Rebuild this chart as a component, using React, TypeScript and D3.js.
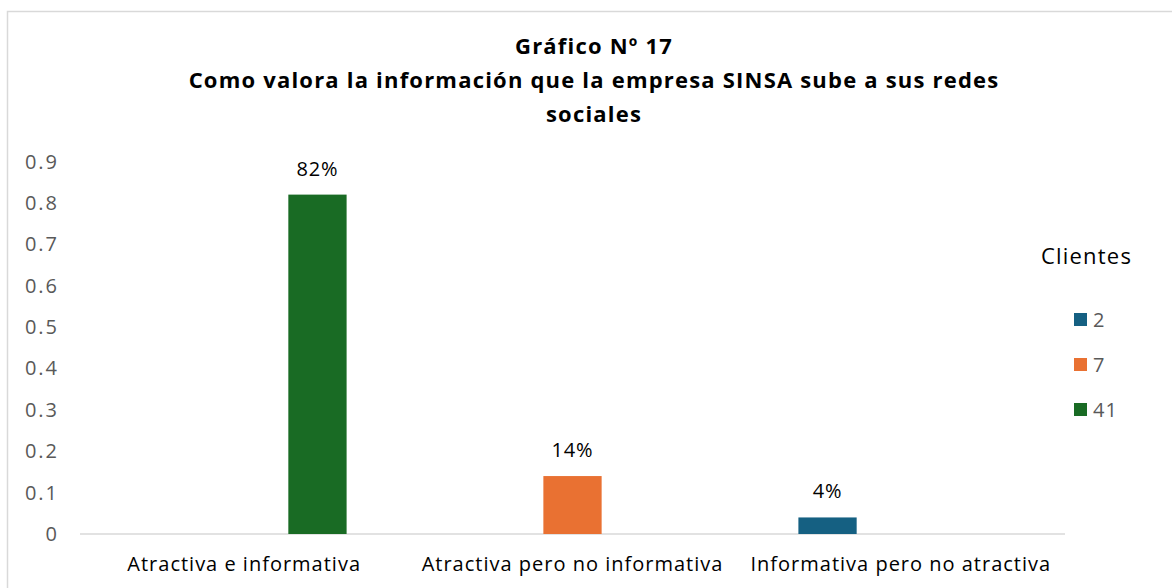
import React from "react";
import * as d3 from "d3";

const categories = ["Atractiva e informativa", "Atractiva pero no informativa", "Informativa pero no atractiva"];
const seriesNames = ["2", "7", "41"];
const series2 = [0, 0, 0.04];
const series7 = [0, 0.14, 0];
const series41 = [0.82, 0, 0];
const seriesColors = ["#156082", "#E97132", "#196B24"];
const yTicks = [0, 0.1, 0.2, 0.3, 0.4, 0.5, 0.6, 0.7, 0.8, 0.9];
const titleLines = ["Gráfico Nº 17", "Como valora la información que la empresa SINSA sube a sus redes", "sociales"];
const legendTitle = "Clientes";

export default function App() {
  const W = 1172, H = 588;
  const left = 80, right = 1065, top = 161.5, bottom = 534;
  const font = "'Open Sans', 'Liberation Sans', Arial, sans-serif";
  const x0 = d3.scaleBand<string>().domain(categories).range([left, right]).paddingInner(0.376).paddingOuter(0.188);
  const x1 = d3.scaleBand<string>().domain(seriesNames).range([0, x0.bandwidth()]).paddingInner(0.205);
  const y = d3.scaleLinear().domain([0, 0.9]).range([bottom, top]);
  const allSeries = [series2, series7, series41];
  const fmtPct = d3.format(".0%");
  return (
    <svg width={W} height={H} style={{ position: "absolute", left: 0, top: 0, background: "#fff" }} fontFamily={font}>
      <rect x={7.5} y={11.5} width={W + 10} height={H + 10} fill="#fff" stroke="#d9d9d9" strokeWidth={1.5} />
      {titleLines.map((t, i) => (
        <text key={i} x={594} y={54 + i * 34} textAnchor="middle" fontSize={22} fontWeight="bold" letterSpacing={1.2} fill="#000">{t}</text>
      ))}
      {yTicks.map((t) => (
        <text key={t} x={59} y={y(t)} dy="0.35em" textAnchor="end" fontSize={20} letterSpacing={2} fill="#595959">{d3.format("")(t)}</text>
      ))}
      <line x1={left} x2={right} y1={bottom} y2={bottom} stroke="#d9d9d9" strokeWidth={1.5} />
      {allSeries.map((vals, si) =>
        vals.map((v, ci) => {
          if (v === 0) return null;
          const bx = (x0(categories[ci]) || 0) + (x1(seriesNames[si]) || 0);
          const bw = x1.bandwidth();
          return (
            <g key={`${si}-${ci}`}>
              <rect x={bx} y={y(v)} width={bw} height={bottom - y(v)} fill={seriesColors[si]} />
              <text x={bx + bw / 2} y={y(v) - 19} textAnchor="middle" fontSize={20} letterSpacing={0.8} fill="#000">{fmtPct(v)}</text>
            </g>
          );
        })
      )}
      {categories.map((c) => (
        <text key={c} x={(x0(c) || 0) + x0.bandwidth() / 2} y={571} textAnchor="middle" fontSize={20} letterSpacing={1} fill="#000">{c}</text>
      ))}
      <text x={1041} y={264} fontSize={22} letterSpacing={1.2} fill="#000">{legendTitle}</text>
      {seriesNames.map((s, i) => (
        <g key={s}>
          <rect x={1074} y={313 + i * 45} width={13} height={13} fill={seriesColors[i]} />
          <text x={1093} y={319.5 + i * 45} dy="0.35em" fontSize={20} letterSpacing={1} fill="#595959">{s}</text>
        </g>
      ))}
    </svg>
  );
}
